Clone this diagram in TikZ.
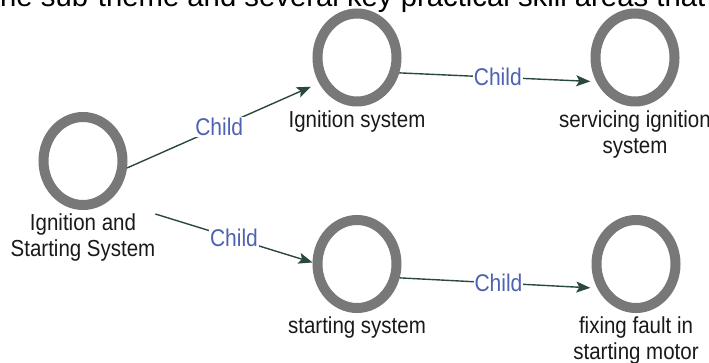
\documentclass[tikz,border=0pt]{standalone}
\usepackage{fontspec}
\setmainfont{Liberation Sans}
\usetikzlibrary{positioning,shapes.geometric,arrows.meta}

\definecolor{ringgray}{RGB}{120,120,120}
\definecolor{linkgreen}{RGB}{42,72,66}
\definecolor{childblue}{RGB}{78,98,178}

\newcommand{\RingW}{79pt}
\newcommand{\RingH}{88pt}
\newcommand{\LabelGap}{4pt}

\tikzset{
    ring/.style={ellipse, draw=ringgray, line width=10pt, minimum width=\RingW, minimum height=\RingH, inner sep=0pt},
    caption/.style={inner sep=0pt, outer sep=0pt, align=center, yscale=1.13, text=black!90, font=\fontsize{20.5}{23}\selectfont},
    child/.style={midway, fill=white, inner sep=1pt, yscale=1.15, text=childblue, font=\fontsize{21}{23}\selectfont},
    link/.style={draw=linkgreen, line width=1.4pt, -{Stealth[length=14pt,width=11pt,inset=3pt]}},
}

\begin{document}
\begin{tikzpicture}[x=1pt,y=-1pt]
        \useasboundingbox (0,0) rectangle (709,362);
        \clip (0,0) rectangle (709,362);

        \node[anchor=base west, inner sep=0pt, font=\fontsize{29.3}{30}\selectfont] (topline) at (0,6) {he sub-theme and several key practical skill areas that};% Cut Text

        \node[ring] (root) at (83,161) {};% Root
        \node[ring] (ign) at (357,57.5) {};% Top Middle
        \node[ring] (serv) at (635,57.5) {};% Top Right
        \node[ring] (start) at (357,264) {};% Bottom Middle
        \node[ring] (fix) at (636,264) {};% Bottom Right

        \node[caption, below=\LabelGap of root] (rootlabel) {Ignition and\\Starting System};
        \node[caption, below=\LabelGap of ign] (ignlabel) {Ignition system};
        \node[caption, below=\LabelGap of serv] (servlabel) {servicing ignition\\system};
        \node[caption, below=\LabelGap of start] (startlabel) {starting system};
        \node[caption, below=\LabelGap of fix] (fixlabel) {fixing fault in\\starting motor};

        \draw[link, shorten >=9pt] (root.-9) -- node[child, pos=0.48] {Child} (ign.214);
        \draw[link] (rootlabel.north east) -- node[child] {Child} (start.178);
        \draw[link, shorten >=6pt] (ign.-20) -- node[child] {Child} (serv.212);
        \draw[link, shorten >=7pt] (start.-18) -- node[child] {Child} (fix.212);
    \end{tikzpicture}
\end{document}
